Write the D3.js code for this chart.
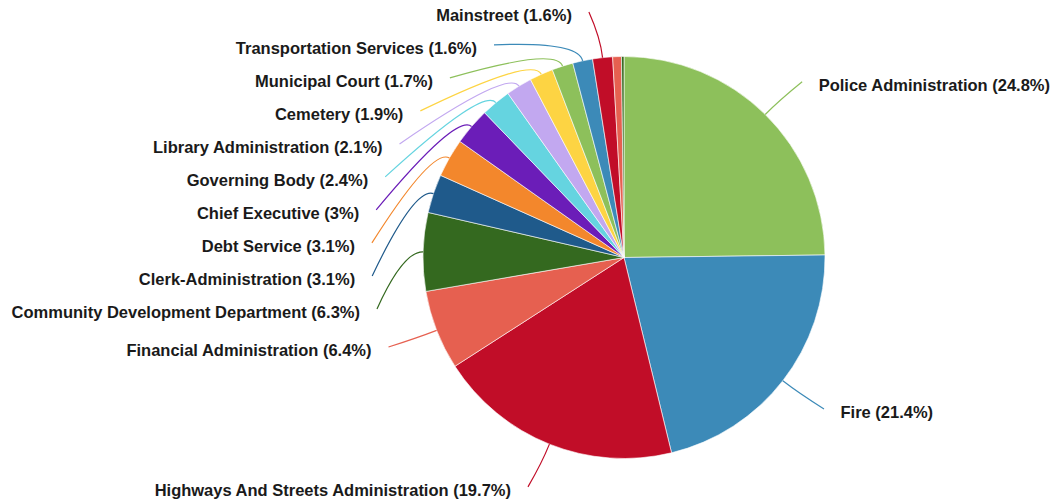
<!DOCTYPE html>
<html>
<head>
<meta charset="utf-8">
<script src="https://cdn.jsdelivr.net/npm/d3@7"></script>
<style>
  html, body { margin: 0; padding: 0; background: #fff; }
  svg { display: block; }
  .label { font-family: "Liberation Sans", Arial, Helvetica, sans-serif; font-weight: bold; font-size: 16.5px; fill: #1a1a1a; }
</style>
</head>
<body>
<svg id="chart" width="1055" height="504"></svg>
<script>
// Budget share by department, in percent, clockwise from 12 o'clock
const categories = [
  "Police Administration",
  "Fire",
  "Highways And Streets Administration",
  "Financial Administration",
  "Community Development Department",
  "Clerk-Administration",
  "Debt Service",
  "Chief Executive",
  "Governing Body",
  "Library Administration",
  "Cemetery",
  "Municipal Court",
  "Transportation Services",
  "Mainstreet",
  "Other Departments",
  "Miscellaneous"
];
const shares = [24.8, 21.4, 19.7, 6.4, 6.3, 3.1, 3.1, 3, 2.4, 2.1, 1.9, 1.7, 1.6, 1.6, 0.7, 0.2];
const palette = ["#8dc05b", "#3c8ab8", "#c10d28", "#e66050", "#34691f", "#1f5a8b",
                 "#f3872c", "#6b1db8", "#65d4e0", "#c2a8f0", "#fdd443"];

const cx = 624, cy = 257.5;
const radius = 201;
const anchorRy = 247;               // vertical radius for a label's natural height
const ellipseRx = 252.5, ellipseRy = 248; // ellipse on which leader lines end
const bendRadius = radius + 20;
const gapLeft = 17, gapRight = 16.5; // space between line end and text
const rowHeight = 33;               // minimum vertical spacing between stacked labels
const topLimit = 11;
const minLabelShare = 1;

const data = categories.map((name, i) => ({ name, value: shares[i] }));
const color = d3.scaleOrdinal().domain(categories).range(palette);

const svg = d3.select("#chart");
const g = svg.append("g").attr("transform", `translate(${cx},${cy})`);

const pie = d3.pie().value(d => d.value).sort(null);
const arcs = pie(data);
const arc = d3.arc().innerRadius(0).outerRadius(radius);

g.selectAll("path.slice")
  .data(arcs)
  .join("path")
  .attr("class", "slice")
  .attr("d", arc)
  .attr("fill", d => color(d.data.name))
  .attr("stroke", "#fff")
  .attr("stroke-width", 0.6);

// polar helper: angle measured clockwise from 12 o'clock
const polar = (a, r) => [Math.sin(a) * r, -Math.cos(a) * r];

// Label layout: natural height from the slice's mid-angle, then stacked per side
const labelled = arcs.filter(d => d.data.value >= minLabelShare).map(d => {
  const mid = (d.startAngle + d.endAngle) / 2;
  return { d, mid, side: mid < Math.PI ? 1 : -1, y: -Math.cos(mid) * anchorRy };
});

[1, -1].forEach(side => {
  const items = labelled.filter(l => l.side === side).sort((a, b) => a.y - b.y);
  let prev = -Infinity;
  items.forEach(l => {
    l.y = Math.max(l.y, prev + rowHeight, topLimit - cy);
    prev = l.y;
  });
});

labelled.forEach(l => {
  const t = Math.min(1, (l.y / ellipseRy) ** 2);
  l.x = l.side * ellipseRx * Math.sqrt(1 - t);
  l.p0 = polar(l.mid, radius);
  l.p1 = polar(l.mid, bendRadius);
});

g.selectAll("path.leader")
  .data(labelled)
  .join("path")
  .attr("class", "leader")
  .attr("fill", "none")
  .attr("stroke", l => color(l.d.data.name))
  .attr("stroke-width", 1.2)
  .attr("d", l => {
    const p = d3.path();
    p.moveTo(l.p0[0], l.p0[1]);
    p.quadraticCurveTo(l.p1[0], l.p1[1], l.x, l.y);
    return p.toString();
  });

g.selectAll("text.label")
  .data(labelled)
  .join("text")
  .attr("class", "label")
  .attr("x", l => l.x + (l.side > 0 ? gapRight : -gapLeft))
  .attr("y", l => l.y)
  .attr("dy", "0.56em")
  .attr("text-anchor", l => l.side > 0 ? "start" : "end")
  .text(l => `${l.d.data.name} (${l.d.data.value}%)`);
</script>
</body>
</html>
